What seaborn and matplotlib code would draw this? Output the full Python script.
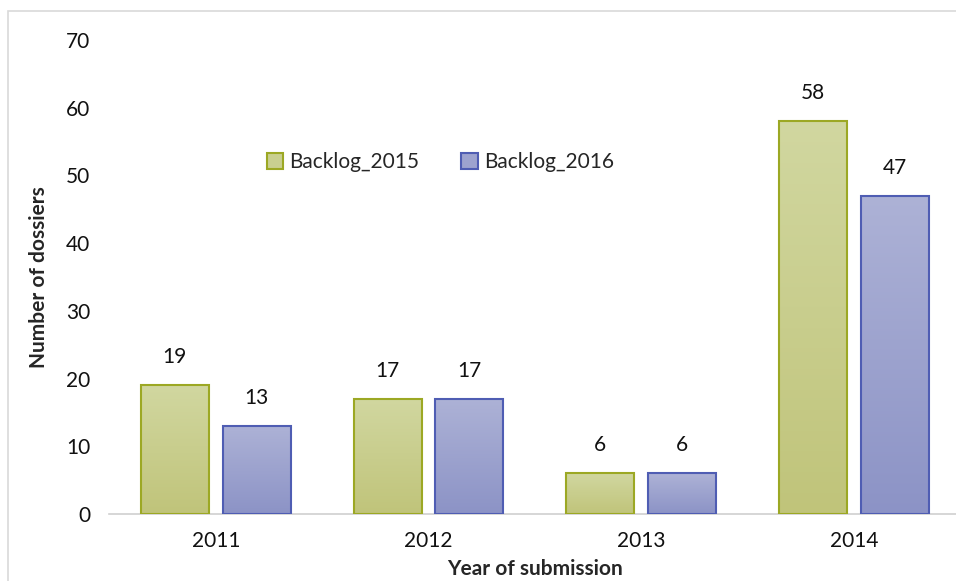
import numpy as np
import pandas as pd
import matplotlib
matplotlib.use("Agg")
import matplotlib.pyplot as plt
import seaborn as sns
from matplotlib.colors import LinearSegmentedColormap
from matplotlib.patches import Rectangle

# data
years = ["2011", "2012", "2013", "2014"]
backlog_2015 = [19, 17, 6, 58]
backlog_2016 = [13, 17, 6, 47]
series_names = ["Backlog_2015", "Backlog_2016"]

df = pd.DataFrame({
    "Year": years * 2,
    "Dossiers": backlog_2015 + backlog_2016,
    "Series": [series_names[0]] * 4 + [series_names[1]] * 4,
})

sns.set_style("white")
plt.rcParams["font.family"] = ["Lato", "DejaVu Sans"]

face = {"Backlog_2015": "#c9cf90", "Backlog_2016": "#9da3cf"}
edges = {"Backlog_2015": "#9ca824", "Backlog_2016": "#4f5db3"}
grads = {
    "Backlog_2015": LinearSegmentedColormap.from_list("g", ["#c0c47a", "#d1d7a0"]),
    "Backlog_2016": LinearSegmentedColormap.from_list("b", ["#8c93c6", "#adb2d6"]),
}

fig = plt.figure(figsize=(9.56, 5.81), dpi=100)
ax = fig.add_axes([0.1145, 0.1153, 0.8900, 0.8157])

sns.barplot(data=df, x="Year", y="Dossiers", hue="Series", palette=face,
            width=0.77, gap=0.17, ax=ax, linewidth=0, errorbar=None)

# gradient fill + edges + value labels
grad = np.linspace(0, 1, 256).reshape(-1, 1)
for cont, name in zip(ax.containers, series_names):
    for bar, val in zip(cont, df[df["Series"] == name]["Dossiers"]):
        x0, w, h = bar.get_x(), bar.get_width(), bar.get_height()
        im = ax.imshow(grad, cmap=grads[name], origin="lower", aspect="auto",
                       extent=[x0, x0 + w, 0, h], zorder=2)
        im.set_clip_path(bar)
        bar.set_facecolor("none")
        bar.set_edgecolor(edges[name])
        bar.set_linewidth(1.5)
        bar.set_zorder(3)
        ax.annotate(str(val), (x0 + w / 2, h), xytext=(0, 13),
                    textcoords="offset points", ha="center", va="bottom",
                    fontsize=15, color="#111111")
ax.set_xlim(-0.5, 3.5)
ax.set_ylim(0, 70)

sns.despine(ax=ax, left=True, right=True, top=True)
ax.spines["bottom"].set_color("#d0d0d0")
ax.spines["bottom"].set_linewidth(1.2)
ax.tick_params(axis="both", length=0, labelsize=15, colors="#111111")
ax.tick_params(axis="y", pad=14)
ax.tick_params(axis="x", pad=12)
ax.set_yticks(range(0, 71, 10))

ax.set_xlabel("Year of submission", fontsize=15, fontweight="bold", labelpad=6)
ax.set_ylabel("Number of dossiers", fontsize=15, fontweight="bold", labelpad=12)

handles = [Rectangle((0, 0), 1, 1, facecolor=face[n], edgecolor=edges[n], linewidth=1.5)
           for n in series_names]
ax.legend(handles, series_names, loc="center", bbox_to_anchor=(0.389, 0.743),
          ncol=2, frameon=False, fontsize=15, handlelength=0.8, handleheight=0.8,
          handletextpad=0.3, columnspacing=2.0)

# outer chart border
fig.patches.append(Rectangle((8 / 956, -0.05), 1.1, 1 - 11 / 581 + 0.05,
                             transform=fig.transFigure, fill=False,
                             edgecolor="#d9d9d9", linewidth=1.2))

fig.savefig("out.png", dpi=100)
